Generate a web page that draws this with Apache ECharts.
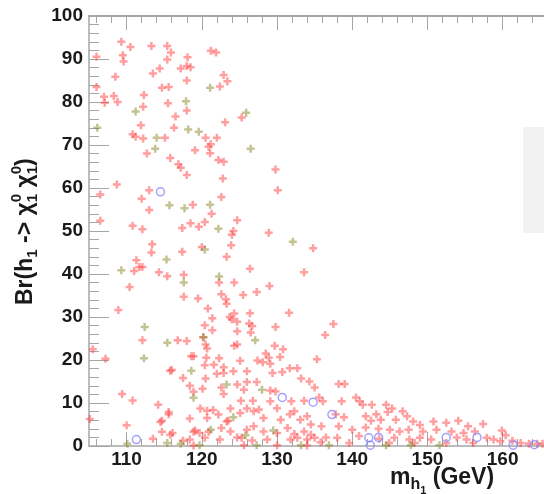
<!DOCTYPE html>
<html><head><meta charset="utf-8">
<script src="https://cdn.jsdelivr.net/npm/echarts@6/dist/echarts.min.js"></script>
<style>html,body{margin:0;padding:0;background:#fff}#c{width:544px;height:494px}</style>
</head><body><div id="c"></div>
<script>
const redPoints = [
[109.3,94.0],[110.5,92.8],[113.3,93.0],[115.4,93.0],[115.9,91.5],[106.0,90.5],[109.5,90.9],[109.6,89.4],[115.4,89.9],[118.1,90.4],[121.2,91.9],[121.9,91.5],[114.4,87.8],[117.2,87.8],[118.0,88.4],[118.5,88.1],[113.5,86.6],[108.5,85.9],[122.9,86.3],[123.4,84.8],[118.0,85.0],[106.0,83.5],[114.7,83.3],[115.6,83.5],[122.4,83.6],[107.0,81.2],[108.3,81.4],[112.3,81.6],[107.1,79.8],[108.8,80.0],[115.5,79.7],[112.2,78.9],[118.0,78.0],[116.5,76.6],[123.1,75.3],[125.3,76.4],[111.9,74.6],[116.3,74.0],[110.8,72.5],[111.2,71.9],[112.2,71.5],[115.1,71.7],[120.5,71.7],[122.0,71.7],[121.2,70.2],[120.9,69.6],[119.1,68.8],[112.7,68.0],[121.1,68.1],[115.8,67.0],[122.2,66.5],[122.9,66.1],[116.9,65.5],[117.2,64.7],[118.0,63.0],[122.8,62.2],[108.7,60.8],[106.5,58.5],[113.0,59.5],[122.6,57.9],[112.0,57.5],[118.8,56.1],[113.0,54.9],[121.3,54.0],[106.5,52.4],[124.7,52.5],[110.8,51.2],[112.1,50.4],[117.4,50.7],[118.5,51.8],[119.6,51.0],[120.4,52.1],[124.2,50.0],
[129.8,64.3],[130.1,59.5],[128.9,49.6],
[124.0,49.1],[113.4,46.9],[123.9,46.7],[113.3,45.0],[117.4,45.2],[120.0,46.3],[123.3,44.0],[111.3,43.2],[111.7,41.6],[112.1,41.6],[111.0,40.7],[114.3,40.4],[115.4,39.5],[117.6,39.8],[122.3,38.0],[124.3,38.0],[110.4,37.0],[117.6,34.7],[119.5,34.3],[122.6,35.3],[123.2,34.1],[123.3,33.1],[120.8,32.0],[108.9,31.6],[124.3,30.8],[123.7,30.0],[124.0,29.5],[121.4,29.7],[124.7,28.9],[120.4,28.1],[121.4,26.9],[124.7,26.7],[112.1,24.6],[116.8,24.6],[118.0,24.4],[120.2,25.3],[120.5,23.6],[120.7,22.7],[124.7,23.6],[124.3,23.3],[105.5,22.5],[107.2,20.3],[118.9,20.9],[120.6,20.5],[122.3,20.4],
[134.8,46.0],[126.4,41.2],[133.6,40.4],[129.0,37.2],[127.3,35.8],[125.5,35.1],[126.4,30.9],[131.6,31.0],[137.5,28.4],[126.3,28.5],[126.7,27.9],[129.8,27.7],[126.5,26.4],[136.4,25.8],[129.7,23.3],[130.8,22.5],[128.5,21.5],[128.9,20.5],[130.4,20.7],[127.4,19.9],[135.3,20.2],
[105.1,6.3],[115.8,17.5],[117.5,15.8],[120.4,18.8],[121.6,18.9],[122.9,18.3],[122.9,17.0],[120.5,15.7],[122.0,16.8],[124.2,17.4],[125.1,19.8],[126.0,17.4],[128.1,19.5],[129.1,19.1],[129.4,17.0],[130.7,17.2],[131.7,18.1],[132.7,18.1],[133.2,15.7],[134.3,15.0],[135.0,13.6],[126.0,14.9],[120.1,13.3],[118.9,12.6],[122.6,13.6],[124.7,14.3],[125.6,13.1],[127.3,14.9],[129.1,12.9],[129.8,12.7],[109.4,12.1],[110.8,10.6],[114.2,9.6],[122.9,12.1],[125.2,10.5],[126.8,10.5],[129.1,10.4],[131.9,10.4],[133.6,10.5],[119.8,8.7],[120.7,8.2],[121.5,8.4],[123.8,8.7],[126.0,8.7],[127.6,8.5],[130.0,8.8],[132.3,8.1],[134.0,6.9],[114.7,5.9],[115.6,7.4],[118.4,6.4],[120.7,6.5],[122.2,7.3],[123.5,5.9],[125.1,7.7],[126.9,8.1],[128.2,6.5],[130.5,6.1],[131.7,7.4],[133.1,6.1],[134.5,5.0],[110.0,4.8],[114.7,3.3],[115.8,2.6],[119.1,3.6],[119.7,3.0],[120.9,3.3],[122.6,4.2],[123.3,5.7],[123.8,3.4],[126.0,3.8],[126.9,4.6],[128.2,3.4],[130.0,3.0],[131.4,4.2],[132.3,2.8],[133.6,3.4],[134.5,2.6],[113.5,1.7],[118.4,1.5],[120.4,1.9],[122.4,1.5],[124.7,2.0],[125.3,1.9],[126.7,1.3],[128.7,1.5],[131.8,1.5],[132.7,1.9],[134.0,1.5],[135.0,1.9],[125.6,0.2],[130.0,0.2],[134.0,0.1],
[114.5,5.6],[116.1,3.0],[115.6,7.9],[117.5,1.2],[118.9,0.1],[118.9,3.3],[118.4,14.0],[118.6,20.9],[116.0,17.7],
[138.2,14.4],[139.0,14.4],[135.6,11.3],[136.1,10.4],[138.6,10.4],[140.5,11.3],[141.0,10.4],[141.4,9.6],[142.6,9.6],[144.5,9.6],[145.3,8.7],[146.7,8.1],[143.2,7.4],[144.7,7.9],[137.8,7.4],[138.9,6.7],[141.8,6.9],[142.5,5.9],[143.8,6.1],[145.8,6.1],[147.3,6.9],[148.1,5.7],[149.0,4.9],[150.8,5.7],[152.5,5.4],[154.1,5.9],[155.4,4.6],[157.4,5.1],[135.9,4.6],[138.2,4.6],[140.0,3.8],[141.8,4.3],[143.5,4.0],[145.0,3.8],[146.3,3.4],[147.5,3.8],[149.4,3.4],[151.2,3.8],[153.2,3.4],[154.8,3.0],[156.3,3.4],[159.9,3.6],[136.5,2.0],[138.0,1.9],[140.9,2.3],[143.6,1.7],[145.6,1.9],[147.6,1.5],[149.0,1.9],[150.5,1.5],[153.9,2.0],[155.2,1.5],[157.9,1.9],[160.4,2.5],[158.8,1.5],[161.3,1.2],[162.4,0.7],[163.5,0.5],[164.6,0.5],[165.3,0.5],[135.8,0.9],[139.6,0.7],[144.9,0.7],[148.3,0.7],[152.5,0.7],[156.1,0.7],[159.7,1.1]
];
const olivePoints = [
[121.1,83.3],[117.9,80.2],[111.2,77.8],[106.1,74.0],[118.2,73.6],[119.6,73.1],[114.0,71.7],[113.8,69.1],[115.7,56.0],[117.7,55.3],[121.1,56.1],[122.2,50.5],[125.9,77.5],[126.5,69.1],[132.1,47.5],[120.4,45.7],[115.3,43.4],[109.3,40.9],[122.3,39.4],[117.6,38.0],[112.4,27.7],[115.4,24.0],[120.2,25.3],[112.3,20.4],[127.1,24.6],[118.6,17.5],[123.3,14.3],[128.0,13.1],[118.9,11.2],[124.2,6.7],[121.2,3.8],[125.8,2.5],[129.5,3.6],[119.7,0.2],[110.1,0.5],[115.4,0.7],[117.2,0.5],[127.3,0.2],[133.2,0.2],[136.9,0.2],[144.5,0.2],[147.8,0.2],[151.6,0.2]
];
const bluePoints = [
[114.5,59.1],[111.3,1.5],[130.7,11.3],[134.8,10.2],[137.3,7.3],[142.2,1.9],[143.5,2.0],[152.5,2.0],[156.6,2.0],[142.4,0.2],[161.4,0.2],[164.2,0.3]
];
const xMajorTicks = [110,120,130,140,150,160];
const xMinorTicks = [106,108,112,114,116,118,122,124,126,128,132,134,136,138,142,144,146,148,152,154,156,158,162,164];
const xRange = [105, 165.5];
const yRange = [0, 100];

const FONT = '"Liberation Sans", Arial, Helvetica, sans-serif';
const axisGray = '#a6a6a6';
const plus = 'path://M2.75,0h2.5v2.75h2.75v2.5h-2.75v2.75h-2.5v-2.75h-2.75v-2.5h2.75z';

const chart = echarts.init(document.getElementById('c'), null, {renderer: 'canvas'});

function xAxisDef(position, ticks, len, showLine, showLabel) {
  return {
    type: 'value', min: xRange[0], max: xRange[1], position: position,
    axisLine: {show: showLine, onZero: false, lineStyle: {color: axisGray, width: position === 'top' ? 2 : 1.5}},
    axisTick: {show: true, inside: true, length: len, customValues: ticks, lineStyle: {color: axisGray, width: 1}},
    axisLabel: showLabel ? {show: true, customValues: ticks, fontFamily: FONT, fontWeight: 'bold', fontSize: 19, color: '#1a1a1a', margin: 4} : {show: false},
    splitLine: {show: false}
  };
}

const ctx = document.createElement('canvas').getContext('2d');
function tw(t, size) { ctx.font = 'bold ' + size + 'px ' + FONT; return ctx.measureText(t).width; }
function buildTitle(tokens) {
  let x = 0; const out = [];
  tokens.forEach(tok => {
    const parts = Array.isArray(tok) ? tok : [tok];
    let adv = 0;
    parts.forEach(p => {
      out.push({type: 'text', style: {text: p.t, x: x, y: p.b - 0.31 * p.s, font: 'bold ' + p.s + 'px ' + FONT, fill: '#1a1a1a', align: 'left', verticalAlign: 'middle'}});
      adv = Math.max(adv, tw(p.t, p.s));
    });
    x += adv;
  });
  return out;
}
const yTitle = buildTitle([
  {t: 'Br(h', s: 23, b: 0}, {t: '1', s: 15, b: 5}, {t: ' -> ', s: 23, b: 0},
  {t: 'χ', s: 23, b: 0}, [{t: '0', s: 15, b: -11}, {t: '1', s: 15, b: 5}],
  {t: ' χ', s: 23, b: 0}, [{t: '0', s: 15, b: -11}, {t: '1', s: 15, b: 5}],
  {t: ')', s: 23, b: 0}
]);
const xTitle = buildTitle([
  {t: 'm', s: 23, b: 0}, {t: 'h', s: 16, b: 5}, {t: '1', s: 11, b: 9}, {t: ' (GeV)', s: 23, b: 0}
]);

const option = {
  animation: false,
  backgroundColor: '#ffffff',
  grid: {left: 89, right: 0, top: 16, bottom: 48, containLabel: false},
  xAxis: [
    xAxisDef('bottom', xMajorTicks, 14, true, true),
    xAxisDef('bottom', xMinorTicks, 7, false, false),
    xAxisDef('top', xMajorTicks, 14, true, false),
    xAxisDef('top', xMinorTicks, 7, false, false)
  ],
  yAxis: [{
    type: 'value', min: yRange[0], max: yRange[1], interval: 10, position: 'left',
    axisLine: {show: true, onZero: false, lineStyle: {color: axisGray, width: 1.5}},
    axisTick: {show: true, inside: true, length: 20, lineStyle: {color: axisGray}},
    minorTick: {show: true, splitNumber: 5, length: 10, lineStyle: {color: axisGray}},
    axisLabel: {fontFamily: FONT, fontWeight: 'bold', fontSize: 19, color: '#1a1a1a', margin: 6},
    splitLine: {show: false}
  }],
  graphic: [
    {type: 'rect', shape: {x: 523, y: 127, width: 30, height: 106}, style: {fill: '#f2f2f2'}, z: -1, silent: true},
    {type: 'group', x: 33, y: 305, rotation: Math.PI / 2, children: yTitle, silent: true},
    {type: 'group', x: 390, y: 485, children: xTitle, silent: true}
  ],
  series: [
    {type: 'scatter', xAxisIndex: 0, yAxisIndex: 0, data: redPoints, symbol: plus, symbolSize: 8,
     itemStyle: {color: 'rgba(255,60,60,0.62)'}, silent: true, z: 3},
    {type: 'scatter', xAxisIndex: 0, yAxisIndex: 0, data: olivePoints, symbol: plus, symbolSize: 8,
     itemStyle: {color: 'rgba(130,130,30,0.6)'}, silent: true, z: 4},
    {type: 'scatter', xAxisIndex: 0, yAxisIndex: 0, data: bluePoints, symbol: 'circle', symbolSize: 8,
     itemStyle: {color: 'rgba(0,0,0,0)', borderColor: '#8a8aff', borderWidth: 1.5}, silent: true, z: 5}
  ]
};
chart.setOption(option);
</script></body></html>
